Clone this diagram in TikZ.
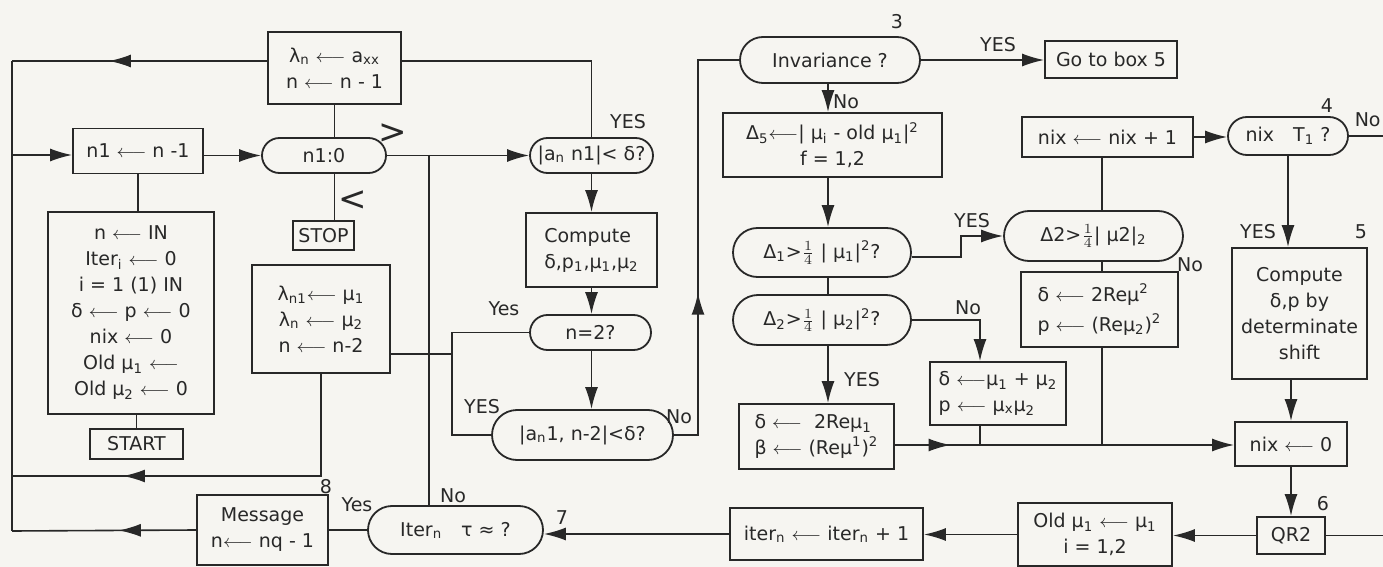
\documentclass[tikz,border=0pt]{standalone}
\usepackage{fontspec}
\setmainfont{DejaVu Sans}
\usetikzlibrary{arrows.meta,decorations.markings}
\definecolor{paper}{RGB}{246,245,241}
\definecolor{ink}{RGB}{40,40,40}
\newcommand{\la}{\(\longleftarrow\)}
\tikzset{
 box/.style={draw=ink, line width=0.9pt, inner sep=0pt, align=center, text=ink, font=\fontsize{9.5}{13}\selectfont},
 conn/.style={draw=ink, line width=0.8pt},
 arr/.style={-{Latex[length=11pt,width=6.5pt]}},
 midarr/.style={postaction={decorate}, decoration={markings, mark=at position #1 with {\arrow{Latex[length=11pt,width=6.5pt]}}}},
 lbl/.style={text=ink, inner sep=0pt, font=\fontsize{9.5}{11}\selectfont},
}
\begin{document}
\begin{tikzpicture}[x=0.5pt,y=-0.5pt,color=ink]
\fill[paper] (0,0) rectangle (1383,567);
\useasboundingbox (0,0) rectangle (1383,567);

% ---------- nodes ----------
\node[box, minimum width=66.5pt, minimum height=36pt] (lam) at (334.5,68) {λ\textsubscript{n} \la\ a\textsubscript{xx}\\ n \la\ n - 1};
\node[box, minimum width=65pt, minimum height=22.5pt] (n1box) at (138,151) {n1 \la\ n -1};
\node[box, rounded corners=8.75pt, minimum width=62pt, minimum height=17.5pt] (n1zero) at (324,155.5) {n1:0};
\node[box, minimum width=83pt, minimum height=101pt] (init) at (131,313) {n \la\ IN\\ Iter\textsubscript{i} \la\ 0\\ i = 1 (1) IN\\ δ \la\ p \la\ 0\\ nix \la\ 0\\ Old μ\textsubscript{1} \la\\ Old μ\textsubscript{2} \la\ 0};
\node[box, minimum width=46.5pt, minimum height=15pt] (start) at (136.5,444) {START};
\node[box, minimum width=30.5pt, minimum height=14.5pt] (stop) at (323.5,235.5) {STOP};
\node[box, minimum width=69pt, minimum height=54pt] (lam2) at (321,319) {λ\textsubscript{n1}\la\ μ\textsubscript{1}\\ λ\textsubscript{n} \la\ μ\textsubscript{2}\\ n \la\ n-2};
\node[box, rounded corners=8.75pt, minimum width=61.5pt, minimum height=17.5pt] (an1) at (591.5,155.5) {|a\textsubscript{n} n1|< δ?};
\node[box, align=left, minimum width=65.5pt, minimum height=37pt] (comp1) at (591.5,250) {Compute\\ δ,p\textsubscript{1},μ\textsubscript{1},μ\textsubscript{2}};
\node[box, rounded corners=8.75pt, minimum width=60.5pt, minimum height=17.5pt] (neq2) at (590.5,332.5) {n=2?};
\node[box, rounded corners=12.5pt, minimum width=90.5pt, minimum height=25pt] (an2) at (582.5,435) {|a\textsubscript{n}1, n-2|<δ?};
\node[box, rounded corners=11.5pt, minimum width=90pt, minimum height=23pt] (inv) at (830,60) {Invariance ?};
\node[box, minimum width=66pt, minimum height=18.5pt] (goto) at (1111,59.5) {Go to box 5};
\node[box, minimum width=109.5pt, minimum height=32pt] (d5) at (832.5,145) {Δ\textsubscript{5}\la| μ\textsubscript{i} - old μ\textsubscript{1}|\textsuperscript{2}\\ f = 1,2};
\node[box, rounded corners=12.25pt, minimum width=89pt, minimum height=24.5pt] (d1) at (822,252.5) {Δ\textsubscript{1}>\(\frac{1}{4}\) | μ\textsubscript{1}|\textsuperscript{2}?};
\node[box, rounded corners=12.5pt, minimum width=89pt, minimum height=25pt] (d2) at (822,320) {Δ\textsubscript{2}>\(\frac{1}{4}\) | μ\textsubscript{2}|\textsuperscript{2}?};
\node[box, align=left, minimum width=77.5pt, minimum height=32.5pt] (dd1) at (816.5,436.5) {δ \la\ \ 2Reμ\textsubscript{1}\\ β \la\ (Reμ\textsuperscript{1})\textsuperscript{2}};
\node[box, rounded corners=12.5pt, minimum width=89.5pt, minimum height=25pt] (dd2) at (1093.5,236) {Δ2>\(\frac{1}{4}\)| μ2|\textsubscript{2}};
\node[box, align=left, minimum width=78.5pt, minimum height=37.5pt] (dd3) at (1099.5,309.5) {δ \la\ 2Reμ\textsuperscript{2}\\[2pt] p \la\ (Reμ\textsubscript{2})\textsuperscript{2}};
\node[box, align=left, minimum width=68pt, minimum height=31.5pt] (dd4) at (998,393.5) {δ \la μ\textsubscript{1} + μ\textsubscript{2}\\ p \la\ μ\textsubscript{x}μ\textsubscript{2}};
\node[box, minimum width=85.5pt, minimum height=20pt] (nixp) at (1107.5,137) {nix \la\ nix + 1};
\node[box, rounded corners=9.5pt, minimum width=60pt, minimum height=19pt] (nixT) at (1288,136) {nix\quad T\textsubscript{1} ?};
\node[box, minimum width=67.5pt, minimum height=65.5pt] (comp2) at (1299.5,313.5) {Compute\\ δ,p by\\ determinate\\ shift};
\node[box, minimum width=56pt, minimum height=22pt] (nix0) at (1291,444) {nix \la\ 0};
\node[box, minimum width=34pt, minimum height=18.5pt] (qr2) at (1291,535.5) {QR2};
\node[box, minimum width=77pt, minimum height=31.5pt] (old) at (1095,534.5) {Old μ\textsubscript{1} \la\ μ\textsubscript{1}\\ i = 1,2};
\node[box, minimum width=96.5pt, minimum height=26pt] (itn) at (826.5,534) {iter\textsubscript{n} \la\ iter\textsubscript{n} + 1};
\node[box, rounded corners=12pt, minimum width=87.5pt, minimum height=24pt] (iter) at (455.5,530) {Iter\textsubscript{n}\quad τ ≈ ?};
\node[box, minimum width=65.5pt, minimum height=35pt] (msg) at (262.5,530) {Message\\ n\la\ nq - 1};

% ---------- coordinates ----------
\coordinate (L1) at (12,61);
\coordinate (L2) at (12,155);
\coordinate (L8) at (12,476);
\coordinate (L9) at (12,531);
\coordinate (J1) at (429,155);
\coordinate (J2) at (452,354);
\coordinate (V1) at (1102,0);
\coordinate (V2) at (980,0);
\coordinate (V4) at (698,0);
\coordinate (V5) at (828,0);
\coordinate (H) at (0,445);
\coordinate (R1) at (1383,135);
\coordinate (R2) at (1383,536);

% ---------- connectors ----------
\draw[conn] (an1.north) |- ([yshift=3.5pt]lam.east);
\draw[conn, midarr=0.62] ([yshift=3.5pt]lam.west) -- (L1);
\draw[conn] (L1) -- (L9);
\draw[conn, arr] (L2) -- (L2 -| n1box.west);
\draw[conn, arr] (n1zero.west -| n1box.east) -- (n1zero.west);
\draw[conn] (lam.south) -- (lam.south |- n1zero.north);
\draw[conn] (n1zero.south -| lam.south) -- (stop.north -| lam.south);
\draw[conn, arr] (n1zero.east) -- (an1.west);
\draw[conn] (J1) -- (J1 |- iter.north);
\draw[conn] (n1box.south) -- (n1box.south |- init.north);
\draw[conn] (start.north) -- (start.north |- init.south);
\draw[conn] (lam2.east |- J2) -- (J2);
\draw[conn] (neq2.west) -| (J2) |- (an2.west);
\draw[conn, midarr=0.73] (lam2.south) |- (L8);
\draw[conn, midarr=0.42] (msg.west) -- (L9);
\draw[conn] (iter.west) -- (msg.east);
\draw[conn, arr] (itn.west) -- (itn.west -| iter.east);
\draw[conn, arr] (old.west) -- (old.west -| itn.east);
\draw[conn, arr] (qr2.west) -- (qr2.west -| old.east);
\draw[conn] (qr2.east) -- (qr2.east -| R2);
\draw[conn, arr] (nix0.south) -- (qr2.north);
\draw[conn, arr] (comp2.south -| nix0.north) -- (nix0.north);
\draw[conn, arr] (nixT.south) -- (nixT.south |- comp2.north);
\draw[conn] (nixT.east) -- (nixT.east -| R1);
\draw[conn, arr] (nixp.east) -- (nixp.east -| nixT.west);
\draw[conn] (V1 |- nixp.south) -- (V1 |- dd2.north);
\draw[conn] (V1 |- dd2.south) -- (V1 |- dd3.north);
\draw[conn] (V1 |- dd3.south) -- (V1 |- H);
\draw[conn, arr] (inv.east) -- (inv.east -| goto.west);
\draw[conn, arr] (V5 |- inv.south) -- (V5 |- d5.north);
\draw[conn, arr] (V5 |- d5.south) -- (V5 |- d1.north);
\draw[conn] (V5 |- d1.south) -- (V5 |- d2.north);
\draw[conn, arr] (V5 |- d2.south) -- (V5 |- dd1.north);
\draw[conn, arr] ([yshift=-2.25pt]d1.east) -- ++(49,0) |- (dd2.west);
\draw[conn, arr] (d2.east) -| (V2 |- dd4.north);
\draw[conn] (V2 |- dd4.south) -- (V2 |- H);
\draw[conn, arr, midarr=0.164] (dd1.east |- H) -- (H -| nix0.west);
\draw[conn, midarr=0.378] (an2.east) -| (V4 |- inv.west) -- (inv.west);
\draw[conn, arr] (an1.south) -- (comp1.north);
\draw[conn, arr] (comp1.south) -- (comp1.south |- neq2.north);
\draw[conn, arr] (neq2.south -| comp1.south) -- (an2.north -| comp1.south);

% ---------- labels ----------
\node[lbl, font=\fontsize{17}{17}\selectfont] (gt) at (393,134) {>};
\node[lbl, font=\fontsize{17}{17}\selectfont] (lt) at (353,201) {<};
\node[lbl] (t1) at (628,122) {YES};
\node[lbl] (t2) at (897,22) {3};
\node[lbl] (t3) at (998,45) {YES};
\node[lbl] (t4) at (846,102) {No};
\node[lbl] (t5) at (1327,106) {4};
\node[lbl, anchor=east] (t6) at (1381,120) {No};
\node[lbl] (t7) at (972,221) {YES};
\node[lbl] (t8) at (1190,265) {No};
\node[lbl] (t9) at (1258,232) {YES};
\node[lbl] (t10) at (1361,232) {5};
\node[lbl] (t11) at (968,308) {No};
\node[lbl] (t12) at (862,380) {YES};
\node[lbl] (t13) at (504,309) {Yes};
\node[lbl] (t14) at (482,407) {YES};
\node[lbl] (t15) at (679,417) {No};
\node[lbl] (t16) at (326,487) {8};
\node[lbl] (t17) at (357,505) {Yes};
\node[lbl] (t18) at (453,496) {No};
\node[lbl] (t19) at (562,518) {7};
\node[lbl] (t20) at (1323,504) {6};
\end{tikzpicture}
\end{document}
